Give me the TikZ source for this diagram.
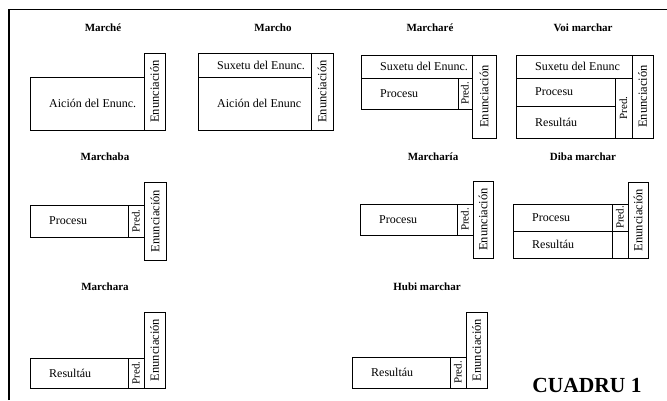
\documentclass[tikz,border=0pt]{standalone}
\usepackage{fontspec}
\setmainfont{Liberation Serif}
\usepackage{tikz}
\usetikzlibrary{positioning}

\begin{document}
\begin{tikzpicture}[
        x=1pt, y=1pt,
        cell/.style={rectangle, draw, line width=1pt, inner sep=0pt, outer sep=0pt},
        txt/.style={label={[anchor=west, inner sep=0pt, xshift=19pt,
                    font=\fontsize{12}{14}\selectfont]west:#1}},
        pred/.style={cell, minimum width=16pt, label={[rotate=90, inner sep=0pt,
                    font=\fontsize{11}{13}\selectfont]center:Pred.}},
        enun/.style={cell, label={[rotate=90, inner sep=0pt,
                    font=\fontsize{12.5}{14}\selectfont]center:Enunciación}},
        title/.style={font=\fontsize{11}{13}\selectfont\bfseries}
      ]
      \useasboundingbox (0,0) rectangle (667,-400);
      \draw[line width=1.6pt] (9,-400) -- (9,-9);
      \draw[line width=0.9pt] (9,-9) -- (667,-9);

      \node[title] (t1) at (103,-28) {Marché};
      \node[enun, minimum width=21pt, minimum height=77pt, anchor=north west] (e1) at (144,-53) {};
      \node[cell, txt=Aición del Enunc., minimum width=114pt, minimum height=53pt, anchor=south east] (a1) at (e1.south west) {};

      \node[title] (t2) at (273,-28) {Marcho};
      \node[enun, minimum width=22pt, minimum height=77pt, anchor=north west] (e2) at (311,-53) {};
      \node[cell, txt=Suxetu del Enunc., minimum width=113pt, minimum height=24pt, anchor=north east] (s2) at (e2.north west) {};
      \node[cell, txt=Aición del Enunc, minimum width=113pt, minimum height=53pt, anchor=north east] (a2) at (s2.south east) {};

      \node[title] (t3) at (430,-28) {Marcharé};
      \node[enun, minimum width=24pt, minimum height=83pt, anchor=north west] (e3) at (472,-55) {};
      \node[cell, txt=Suxetu del Enunc., minimum width=111pt, minimum height=23pt, anchor=north east] (s3) at (e3.north west) {};
      \node[pred, minimum width=14pt, minimum height=31pt, anchor=north east] (p3) at (s3.south east) {};
      \node[cell, txt=Procesu, minimum width=97pt, minimum height=31pt, left=0pt of p3] (r3) {};

      \node[title] (t4) at (583,-28) {Voi marchar};
      \node[enun, minimum width=21pt, minimum height=83pt, anchor=north west] (e4) at (632,-55) {};
      \node[cell, txt=Suxetu del Enunc, minimum width=116pt, minimum height=23pt, anchor=north east] (s4) at (e4.north west) {};
      \node[pred, minimum width=17pt, minimum height=60pt, anchor=north east] (p4) at (s4.south east) {};
      \node[cell, txt=Procesu, minimum width=99pt, minimum height=28pt, anchor=north east] (r4) at (p4.north west) {};
      \node[cell, txt=Resultáu, minimum width=99pt, minimum height=32pt, anchor=north west] (u4) at (r4.south west) {};

      \node[title] (t5) at (105,-157) {Marchaba};
      \node[cell, txt=Procesu, minimum width=98pt, minimum height=32pt, anchor=north west] (r5) at (30,-205) {};
      \node[pred, minimum height=32pt, right=0pt of r5] (p5) {};
      \node[enun, minimum width=22pt, minimum height=78pt, anchor=north west, yshift=23pt] (e5) at (p5.north east) {};

      \node[title] (t6) at (433,-157) {Marcharía};
      \node[cell, txt=Procesu, minimum width=97pt, minimum height=31pt, anchor=north west] (r6) at (360,-204) {};
      \node[pred, minimum height=31pt, right=0pt of r6] (p6) {};
      \node[enun, minimum width=20pt, minimum height=77pt, anchor=north west, yshift=23pt] (e6) at (p6.north east) {};

      \node[title] (t7) at (583,-157) {Diba marchar};
      \node[cell, txt=Procesu, minimum width=99pt, minimum height=27pt, anchor=north west] (r7) at (513,-204) {};
      \node[cell, txt=Resultáu, minimum width=99pt, minimum height=27pt, below=0pt of r7] (u7) {};
      \node[pred, minimum height=27pt, right=0pt of r7] (p7) {};
      \node[cell, minimum width=16pt, minimum height=27pt, below=0pt of p7] (q7) {};
      \node[enun, minimum width=20pt, minimum height=76pt, anchor=south west] (e7) at (q7.south east) {};

      \node[title] (t8) at (105,-287) {Marchara};
      \node[cell, txt=Resultáu, minimum width=98pt, minimum height=30pt, anchor=north west] (u8) at (30,-358) {};
      \node[pred, minimum height=30pt, right=0pt of u8] (p8) {};
      \node[enun, minimum width=21pt, minimum height=76pt, anchor=south west] (e8) at (p8.south east) {};

      \node[title] (t9) at (427,-287) {Hubi marchar};
      \node[cell, txt=Resultáu, minimum width=98pt, minimum height=31pt, anchor=north west] (u9) at (352,-357) {};
      \node[pred, minimum height=31pt, right=0pt of u9] (p9) {};
      \node[enun, minimum width=21pt, minimum height=76pt, anchor=south west] (e9) at (p9.south east) {};

      \node[font=\fontsize{21.5}{24}\selectfont\bfseries] (cap) at (587,-385) {CUADRU 1};
    \end{tikzpicture}
\end{document}
